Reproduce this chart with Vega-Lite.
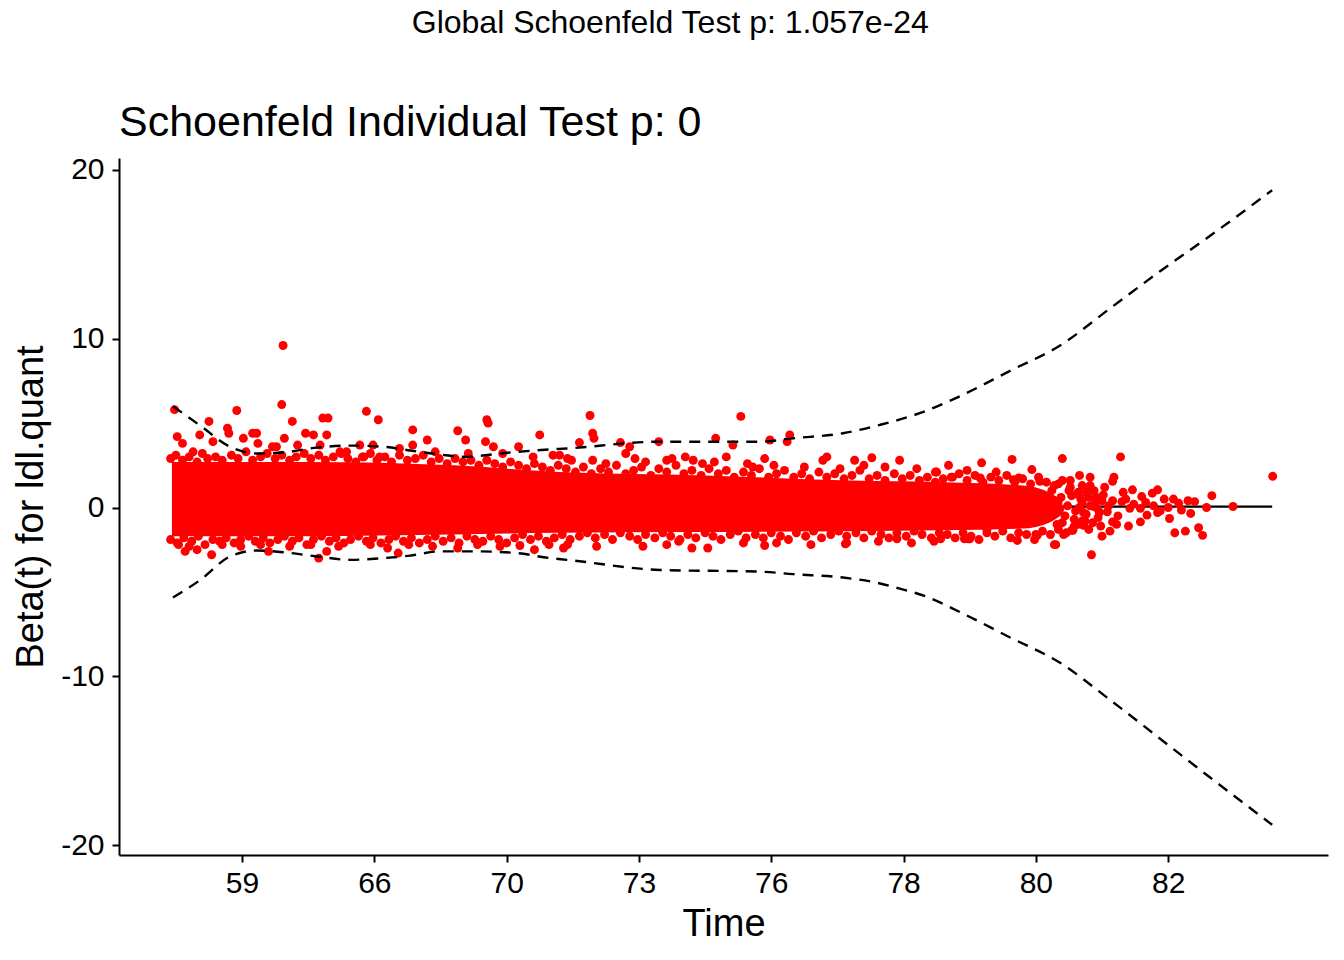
{
"$schema": "https://vega.github.io/schema/vega-lite/v6.json",
"background": "white",
"padding": {"left": 12, "top": 6, "right": 16, "bottom": 0},
"autosize": {"type": "pad"},
"config": {
  "font": "Liberation Sans",
  "view": {"stroke": null},
  "concat": {"spacing": 0},
  "axis": {"domainColor": "black", "domainWidth": 2, "tickColor": "black", "tickWidth": 2, "tickSize": 7, "labelColor": "black", "labelFontSize": 30, "titleFontSize": 38, "titleFontWeight": "normal", "titleColor": "black", "grid": false, "labelFont": "Liberation Sans", "titleFont": "Liberation Sans"}
},
"title": {"text": "Global Schoenfeld Test p: 1.057e-24", "fontSize": 32, "font": "Liberation Sans", "fontWeight": "normal", "color": "black", "anchor": "middle", "offset": 62},
"datasets": {
"core": [
{"t":0.47,"lo":-1.7,"hi":2.7},{"t":1.5,"lo":-1.7,"hi":2.7},{"t":2.6,"lo":-1.6,"hi":2.5},{"t":3.4,"lo":-1.5,"hi":2.1},{"t":4.5,"lo":-1.45,"hi":1.9},{"t":5.6,"lo":-1.4,"hi":1.6},{"t":6.3,"lo":-1.35,"hi":1.5},{"t":6.9,"lo":-1.25,"hi":1.3},{"t":7.1,"lo":-0.9,"hi":0.9},{"t":7.2,"lo":-0.4,"hi":0.4}
],
"fit": [{"t":0.478,"b":0.0},{"t":4.5,"b":0.05},{"t":8.786,"b":0.05}],
"ci": [
{"t":0.478,"hi":6.0,"lo":-5.33},{"t":0.683,"hi":4.86,"lo":-4.3},{"t":0.909,"hi":3.6,"lo":-2.9},{"t":1.113,"hi":3.2,"lo":-2.55},{"t":1.31,"hi":3.26,"lo":-2.65},{"t":1.567,"hi":3.55,"lo":-2.9},{"t":1.816,"hi":3.67,"lo":-3.1},{"t":2.066,"hi":3.6,"lo":-3.0},{"t":2.27,"hi":3.38,"lo":-2.85},{"t":2.497,"hi":3.14,"lo":-2.6},{"t":2.701,"hi":3.0,"lo":-2.6},{"t":2.776,"hi":3.05,"lo":-2.6},{"t":3.078,"hi":3.3,"lo":-2.7},{"t":3.328,"hi":3.44,"lo":-3.0},{"t":3.456,"hi":3.5,"lo":-3.1},{"t":4.159,"hi":3.9,"lo":-3.7},{"t":4.915,"hi":3.9,"lo":-3.8},{"t":5.165,"hi":4.1,"lo":-3.95},{"t":5.543,"hi":4.4,"lo":-4.15},{"t":5.823,"hi":4.9,"lo":-4.5},{"t":5.921,"hi":5.1,"lo":-4.7},{"t":6.178,"hi":5.75,"lo":-5.3},{"t":6.427,"hi":6.6,"lo":-6.2},{"t":6.805,"hi":8.1,"lo":-7.7},{"t":7.183,"hi":9.6,"lo":-9.2},{"t":7.561,"hi":11.8,"lo":-11.4},{"t":7.939,"hi":14.0,"lo":-13.7},{"t":8.317,"hi":16.1,"lo":-16.0},{"t":8.786,"hi":18.8,"lo":-18.8}
],
"pts": [
{"t":0.46,"b":2.9},{"t":0.50,"b":3.1},{"t":0.55,"b":2.8},{"t":0.60,"b":3.0},{"t":0.66,"b":2.7},{"t":0.70,"b":3.2},{"t":0.74,"b":2.9},{"t":0.80,"b":3.0},{"t":0.85,"b":2.8},{"t":0.92,"b":3.1},{"t":0.97,"b":2.9},{"t":1.03,"b":3.3},{"t":1.08,"b":2.8},{"t":1.14,"b":3.0},{"t":1.19,"b":3.2},{"t":1.25,"b":2.9},{"t":1.30,"b":3.1},{"t":1.36,"b":2.8},{"t":1.41,"b":3.0},{"t":1.47,"b":3.2},{"t":1.52,"b":2.9},{"t":1.58,"b":3.1},{"t":1.63,"b":2.8},{"t":1.69,"b":3.0},{"t":1.75,"b":3.2},{"t":1.80,"b":2.9},{"t":1.86,"b":2.7},{"t":1.91,"b":3.0},{"t":1.97,"b":3.2},{"t":2.02,"b":2.8},{"t":2.08,"b":3.0},{"t":2.13,"b":2.7},{"t":2.19,"b":3.1},{"t":2.25,"b":2.8},{"t":2.31,"b":2.9},{"t":2.37,"b":3.1},{"t":2.43,"b":2.7},{"t":2.49,"b":2.9},{"t":2.55,"b":2.6},{"t":2.61,"b":2.9},{"t":2.67,"b":2.7},{"t":2.73,"b":2.8},{"t":2.79,"b":2.5},{"t":2.85,"b":2.8},{"t":2.91,"b":2.6},{"t":2.97,"b":2.4},{"t":3.03,"b":2.7},{"t":3.09,"b":2.5},{"t":3.15,"b":2.3},{"t":3.21,"b":2.6},{"t":3.27,"b":2.4},{"t":3.33,"b":2.2},{"t":3.39,"b":2.5},
{"t":3.45,"b":2.3},{"t":3.52,"b":2.1},{"t":3.58,"b":2.4},{"t":3.64,"b":2.0},{"t":3.71,"b":2.3},{"t":3.77,"b":2.1},{"t":3.83,"b":2.5},{"t":3.90,"b":2.0},{"t":3.96,"b":2.2},{"t":4.02,"b":2.4},{"t":4.09,"b":1.9},{"t":4.15,"b":2.3},{"t":4.21,"b":2.1},{"t":4.28,"b":2.5},{"t":4.34,"b":2.0},{"t":4.40,"b":2.2},{"t":4.47,"b":1.9},{"t":4.53,"b":2.3},{"t":4.60,"b":2.0},{"t":4.66,"b":2.2},{"t":4.72,"b":1.8},{"t":4.79,"b":2.1},{"t":4.85,"b":1.9},{"t":4.91,"b":2.3},{"t":4.98,"b":1.8},{"t":5.04,"b":2.0},{"t":5.10,"b":2.2},{"t":5.17,"b":1.8},{"t":5.23,"b":2.0},{"t":5.29,"b":1.7},{"t":5.36,"b":2.1},{"t":5.42,"b":1.8},{"t":5.48,"b":2.0},{"t":5.55,"b":1.7},{"t":5.61,"b":1.9},{"t":5.67,"b":2.2},{"t":5.74,"b":1.7},{"t":5.80,"b":1.9},{"t":5.86,"b":1.6},{"t":5.93,"b":2.0},{"t":5.99,"b":1.7},{"t":6.05,"b":1.9},{"t":6.12,"b":1.6},{"t":6.18,"b":1.8},{"t":6.24,"b":1.5},{"t":6.30,"b":1.7},
{"t":6.36,"b":1.8},{"t":6.42,"b":2.0},{"t":6.48,"b":1.6},{"t":6.54,"b":1.9},{"t":6.60,"b":1.5},{"t":6.66,"b":1.8},{"t":6.72,"b":1.6},{"t":6.78,"b":1.9},{"t":6.84,"b":1.5},{"t":6.90,"b":1.7},{"t":6.96,"b":1.4},{"t":7.02,"b":1.8},{"t":7.08,"b":1.5},{"t":7.14,"b":1.3},{"t":7.20,"b":1.6},{"t":7.26,"b":1.2},{"t":7.32,"b":0.9},
{"t":0.46,"b":-1.9},{"t":0.51,"b":-2.1},{"t":0.56,"b":-1.8},{"t":0.62,"b":-2.0},{"t":0.67,"b":-1.7},{"t":0.72,"b":-2.2},{"t":0.78,"b":-1.9},{"t":0.83,"b":-2.0},{"t":0.88,"b":-1.8},{"t":0.94,"b":-2.1},{"t":0.99,"b":-1.9},{"t":1.05,"b":-1.7},{"t":1.10,"b":-2.0},{"t":1.16,"b":-1.8},{"t":1.21,"b":-2.1},{"t":1.27,"b":-1.9},{"t":1.32,"b":-1.7},{"t":1.38,"b":-2.0},{"t":1.43,"b":-1.8},{"t":1.49,"b":-2.2},{"t":1.54,"b":-1.9},{"t":1.60,"b":-1.7},{"t":1.66,"b":-2.0},{"t":1.71,"b":-1.8},{"t":1.77,"b":-2.1},{"t":1.82,"b":-1.9},{"t":1.88,"b":-1.7},{"t":1.94,"b":-2.0},{"t":1.99,"b":-1.8},{"t":2.05,"b":-2.1},{"t":2.11,"b":-1.9},{"t":2.16,"b":-1.7},{"t":2.22,"b":-2.0},{"t":2.28,"b":-1.8},{"t":2.34,"b":-2.1},{"t":2.40,"b":-1.9},{"t":2.46,"b":-1.7},{"t":2.52,"b":-2.0},{"t":2.58,"b":-1.8},{"t":2.64,"b":-2.1},{"t":2.70,"b":-1.7},{"t":2.76,"b":-1.9},{"t":2.82,"b":-2.0},{"t":2.88,"b":-1.7},{"t":2.94,"b":-1.9},{"t":3.00,"b":-2.1},{"t":3.06,"b":-1.8},{"t":3.12,"b":-1.6},{"t":3.18,"b":-1.9},{"t":3.24,"b":-1.7},{"t":3.30,"b":-2.0},{"t":3.36,"b":-1.8},
{"t":3.42,"b":-1.6},{"t":3.48,"b":-1.9},{"t":3.55,"b":-1.7},{"t":3.61,"b":-1.5},{"t":3.67,"b":-1.8},{"t":3.74,"b":-1.6},{"t":3.80,"b":-1.9},{"t":3.86,"b":-1.5},{"t":3.93,"b":-1.7},{"t":3.99,"b":-1.9},{"t":4.05,"b":-1.6},{"t":4.12,"b":-1.8},{"t":4.18,"b":-1.5},{"t":4.24,"b":-1.7},{"t":4.31,"b":-1.9},{"t":4.37,"b":-1.6},{"t":4.43,"b":-1.8},{"t":4.50,"b":-1.5},{"t":4.56,"b":-1.7},{"t":4.62,"b":-1.9},{"t":4.69,"b":-1.6},{"t":4.75,"b":-1.4},{"t":4.81,"b":-1.8},{"t":4.88,"b":-1.6},{"t":4.94,"b":-1.8},{"t":5.00,"b":-1.5},{"t":5.07,"b":-1.7},{"t":5.13,"b":-1.9},{"t":5.19,"b":-1.5},{"t":5.26,"b":-1.7},{"t":5.32,"b":-1.4},{"t":5.38,"b":-1.8},{"t":5.45,"b":-1.6},{"t":5.51,"b":-1.4},{"t":5.57,"b":-1.7},{"t":5.64,"b":-1.5},{"t":5.70,"b":-1.8},{"t":5.76,"b":-1.4},{"t":5.83,"b":-1.6},{"t":5.89,"b":-1.8},{"t":5.95,"b":-1.5},{"t":6.02,"b":-1.7},{"t":6.08,"b":-1.4},{"t":6.14,"b":-1.6},{"t":6.21,"b":-1.8},{"t":6.27,"b":-1.5},
{"t":6.33,"b":-1.6},{"t":6.39,"b":-1.8},{"t":6.45,"b":-1.5},{"t":6.51,"b":-1.7},{"t":6.57,"b":-1.9},{"t":6.63,"b":-1.5},{"t":6.69,"b":-1.7},{"t":6.75,"b":-1.4},{"t":6.81,"b":-1.8},{"t":6.87,"b":-1.5},{"t":6.93,"b":-1.6},{"t":6.99,"b":-1.9},{"t":7.05,"b":-1.4},{"t":7.11,"b":-1.6},{"t":7.17,"b":-1.3},{"t":7.23,"b":-1.5},{"t":7.29,"b":-1.1},{"t":7.35,"b":-0.8},
{"t":6.98,"b":0.9},{"t":7.02,"b":-0.8},{"t":7.06,"b":0.2},{"t":7.10,"b":-0.3},{"t":7.12,"b":1.0},{"t":7.16,"b":-1.0},{"t":7.19,"b":0.6},{"t":7.22,"b":-0.5},{"t":7.24,"b":0.1},{"t":7.27,"b":0.7},{"t":7.30,"b":-0.2},{"t":7.34,"b":0.5},{"t":7.37,"b":-0.8},{"t":7.40,"b":0.6},{"t":7.43,"b":-0.9},{"t":7.45,"b":0.3},{"t":7.48,"b":-0.3},{"t":7.50,"b":0.4},{"t":7.20,"b":-0.9},{"t":7.25,"b":1.0},{"t":7.14,"b":0.4},{"t":7.18,"b":-0.1},
{"t":1.31,"b":9.6},{"t":0.49,"b":5.8},{"t":0.96,"b":5.75},{"t":1.30,"b":6.1},{"t":0.75,"b":5.1},{"t":1.38,"b":5.1},{"t":1.61,"b":5.3},{"t":1.65,"b":5.3},{"t":1.94,"b":5.7},{"t":2.03,"b":5.2},{"t":2.29,"b":4.6},{"t":2.40,"b":4.0},{"t":2.63,"b":4.55},{"t":2.69,"b":4.0},{"t":0.51,"b":4.2},{"t":0.68,"b":4.3},{"t":0.89,"b":4.7},{"t":0.90,"b":4.4},{"t":1.01,"b":4.1},{"t":1.08,"b":4.4},{"t":1.11,"b":4.4},{"t":1.12,"b":3.8},{"t":1.32,"b":4.1},{"t":1.48,"b":4.4},{"t":1.54,"b":4.3},{"t":1.64,"b":4.3},{"t":1.42,"b":3.7},{"t":1.89,"b":3.7},{"t":1.99,"b":3.7},{"t":2.29,"b":3.7},{"t":2.19,"b":3.5},{"t":2.46,"b":3.3},{"t":0.63,"b":3.3},{"t":0.55,"b":3.8},{"t":0.78,"b":3.9},{"t":1.23,"b":3.6},{"t":1.26,"b":3.6},{"t":1.59,"b":3.7},{"t":1.74,"b":3.3},{"t":1.79,"b":3.3},{"t":1.92,"b":3.0},{"t":2.04,"b":3.0},{"t":2.71,"b":3.2},
{"t":2.85,"b":5.2},{"t":2.86,"b":5.0},{"t":2.84,"b":3.9},{"t":2.90,"b":3.6},{"t":3.09,"b":3.6},{"t":3.25,"b":4.3},{"t":3.20,"b":3.0},{"t":3.35,"b":3.1},{"t":3.46,"b":2.9},{"t":2.97,"b":3.2},
{"t":3.63,"b":5.45},{"t":3.65,"b":4.4},{"t":3.66,"b":4.1},{"t":3.55,"b":3.85},{"t":3.86,"b":3.85},{"t":3.93,"b":3.6},{"t":3.90,"b":3.2},{"t":3.97,"b":2.9},{"t":4.15,"b":3.9},{"t":4.21,"b":2.8},{"t":4.35,"b":3.0},{"t":4.41,"b":2.8},{"t":4.58,"b":4.1},{"t":4.71,"b":3.7},{"t":4.77,"b":5.4},{"t":4.99,"b":4.0},{"t":5.12,"b":3.9},{"t":5.14,"b":4.3},{"t":4.95,"b":2.9},{"t":4.57,"b":2.7},{"t":4.66,"b":3.0},{"t":4.82,"b":2.6},{"t":4.86,"b":2.4},{"t":5.39,"b":2.8},{"t":5.42,"b":3.0},{"t":5.63,"b":2.8},{"t":5.76,"b":2.95},{"t":5.97,"b":2.8},{"t":6.34,"b":2.5},{"t":3.49,"b":2.8},{"t":3.65,"b":2.8},{"t":3.40,"b":3.1},{"t":5.86,"b":2.4},{"t":6.25,"b":2.1},{"t":6.37,"b":1.8},
{"t":4.05,"b":2.7},{"t":4.48,"b":2.6},{"t":5.02,"b":2.5},{"t":5.25,"b":2.4},{"t":5.52,"b":2.3},{"t":5.70,"b":2.5},{"t":6.10,"b":2.3},{"t":6.48,"b":2.2},{"t":3.75,"b":2.6},{"t":4.25,"b":2.9},
{"t":6.59,"b":2.65},{"t":6.82,"b":2.85},{"t":7.20,"b":2.9},{"t":7.64,"b":3.0},{"t":8.79,"b":1.85},{"t":6.97,"b":2.25},{"t":6.70,"b":2.1},{"t":6.58,"b":1.75},{"t":6.83,"b":1.65},{"t":6.87,"b":1.75},{"t":7.03,"b":1.55},{"t":7.17,"b":1.4},{"t":7.26,"b":1.6},{"t":7.33,"b":1.9},{"t":7.41,"b":1.8},{"t":7.41,"b":1.3},{"t":7.58,"b":1.55},{"t":7.59,"b":1.8},{"t":7.73,"b":1.05},{"t":7.80,"b":0.65},{"t":7.88,"b":0.85},{"t":7.92,"b":1.05},{"t":8.04,"b":0.5},{"t":8.08,"b":0.25},{"t":8.20,"b":0.35},{"t":8.33,"b":0.7},{"t":8.29,"b":0.0},{"t":8.49,"b":0.06},{"t":8.17,"b":-0.35},{"t":8.10,"b":-0.15},{"t":7.94,"b":-0.2},{"t":8.01,"b":-0.65},{"t":8.05,"b":-1.5},{"t":8.13,"b":-1.4},{"t":8.23,"b":-1.2},{"t":8.26,"b":-1.65},{"t":7.42,"b":-2.8},{"t":7.50,"b":-1.7},{"t":7.14,"b":-2.2},{"t":7.21,"b":-1.6},{"t":7.27,"b":-1.35},{"t":7.00,"b":-1.6},{"t":6.86,"b":-1.95},{"t":6.50,"b":-1.85},{"t":6.46,"b":-1.85},{"t":6.28,"b":-1.85},{"t":6.63,"b":-1.3},{"t":7.36,"b":-1.05},{"t":7.49,"b":-1.1},{"t":7.70,"b":-1.1},{"t":7.58,"b":-0.85},{"t":7.61,"b":-1.0},{"t":7.79,"b":-0.85},{"t":7.84,"b":-0.45},{"t":7.79,"b":-0.05},{"t":7.71,"b":-0.05},{"t":7.65,"b":0.35},{"t":7.58,"b":0.4},{"t":7.51,"b":0.75},{"t":7.46,"b":0.6},{"t":7.41,"b":0.1},{"t":7.44,"b":0.05},{"t":7.54,"b":-0.25},{"t":7.89,"b":0.1},{"t":7.92,"b":-0.3},{"t":8.0,"b":0.0},{"t":8.15,"b":0.4},{"t":6.24,"b":2.1},
{"t":7.35,"b":0.3},{"t":7.38,"b":-0.4},{"t":7.47,"b":-0.6},{"t":7.55,"b":0.1},{"t":7.62,"b":-0.5},{"t":7.68,"b":0.5},{"t":7.31,"b":0.8},{"t":7.29,"b":-0.7},{"t":7.44,"b":1.0},{"t":7.52,"b":1.2},{"t":7.66,"b":0.9},{"t":7.74,"b":0.2},{"t":7.83,"b":0.3},{"t":7.97,"b":0.5},{"t":7.32,"b":-1.0},{"t":7.40,"b":-1.3},{"t":7.56,"b":-1.4},{"t":7.35,"b":1.3},{"t":7.33,"b":0.0},{"t":7.38,"b":0.9},{"t":7.47,"b":-0.1},{"t":7.36,"b":-0.3},
{"t":0.57,"b":-2.6},{"t":0.66,"b":-2.5},{"t":0.77,"b":-2.8},{"t":1.20,"b":-2.6},{"t":1.58,"b":-3.0},{"t":1.64,"b":-2.6},{"t":2.10,"b":-2.4},{"t":2.18,"b":-2.7},{"t":2.63,"b":-2.4},{"t":3.21,"b":-2.5},{"t":3.43,"b":-2.4},{"t":3.46,"b":-2.2},{"t":3.10,"b":-2.25},{"t":3.68,"b":-2.3},{"t":4.03,"b":-2.3},{"t":4.21,"b":-2.2},{"t":4.30,"b":-2.0},{"t":4.40,"b":-2.4},{"t":4.52,"b":-2.4},{"t":4.79,"b":-2.1},{"t":4.95,"b":-2.25},{"t":5.04,"b":-2.1},{"t":5.30,"b":-2.2},{"t":5.57,"b":-2.1},{"t":5.81,"b":-2.0},{"t":6.06,"b":-2.1},{"t":6.23,"b":-2.0},{"t":5.95,"b":-1.85},{"t":5.56,"b":-2.15},{"t":6.49,"b":-1.85},{"t":7.15,"b":-2.2},{"t":7.01,"b":-1.65},{"t":7.28,"b":-1.35},
{"t":0.52,"b":-2.2},{"t":0.60,"b":-2.3},{"t":0.85,"b":-2.2},{"t":0.99,"b":-2.3},{"t":1.14,"b":-2.2},{"t":1.36,"b":-2.3},{"t":1.52,"b":-2.2},{"t":1.73,"b":-2.3},{"t":1.97,"b":-2.2},{"t":2.26,"b":-2.2},{"t":2.44,"b":-2.3},{"t":2.78,"b":-2.2},{"t":2.95,"b":-2.3},{"t":3.32,"b":-2.2}
]
},
"vconcat": [
{
  "width": 1209,
  "height": 697,
  "title": {"text": "Schoenfeld Individual Test p: 0", "fontSize": 43, "font": "Liberation Sans", "fontWeight": "normal", "color": "black", "anchor": "start", "frame": "group", "offset": 10},
  "layer": [
    {
      "data": {"name": "fit"},
      "mark": {"type": "line", "color": "black", "strokeWidth": 2.4},
      "encoding": {
        "x": {"field": "t", "type": "quantitative", "scale": {"domain": [0.07, 9.208], "nice": false, "zero": false},
              "axis": {"values": [1,2,3,4,5,6,7,8], "labelExpr": "['','59','66','70','73','76','78','80','82'][datum.value]", "title": "Time", "labelPadding": 6, "titlePadding": 7}},
        "y": {"field": "b", "type": "quantitative", "scale": {"domain": [-20.59, 20.71], "nice": false, "zero": false},
              "axis": {"values": [-20,-10,0,10,20], "labelExpr": "'' + datum.value", "title": "Beta(t) for ldl.quant", "labelPadding": 8, "titlePadding": 10}}
      }
    },
    {
      "data": {"name": "core"},
      "mark": {"type": "area", "color": "#ff0000", "opacity": 1, "interpolate": "monotone"},
      "encoding": {
        "x": {"field": "t", "type": "quantitative", "scale": {"domain": [0.07, 9.208], "nice": false, "zero": false}},
        "y": {"field": "lo", "type": "quantitative", "scale": {"domain": [-20.59, 20.71], "nice": false, "zero": false}},
        "y2": {"field": "hi"}
      }
    },
    {
      "data": {"name": "pts"},
      "mark": {"type": "circle", "color": "#ff0000", "opacity": 1, "size": 80},
      "encoding": {
        "x": {"field": "t", "type": "quantitative", "scale": {"domain": [0.07, 9.208], "nice": false, "zero": false}},
        "y": {"field": "b", "type": "quantitative", "scale": {"domain": [-20.59, 20.71], "nice": false, "zero": false}}
      }
    },
    {
      "data": {"name": "ci"},
      "mark": {"type": "line", "color": "black", "strokeWidth": 2.4, "strokeDash": [11, 8], "interpolate": "monotone"},
      "encoding": {
        "x": {"field": "t", "type": "quantitative", "scale": {"domain": [0.07, 9.208], "nice": false, "zero": false}},
        "y": {"field": "hi", "type": "quantitative", "scale": {"domain": [-20.59, 20.71], "nice": false, "zero": false}}
      }
    },
    {
      "data": {"name": "ci"},
      "mark": {"type": "line", "color": "black", "strokeWidth": 2.4, "strokeDash": [11, 8], "interpolate": "monotone"},
      "encoding": {
        "x": {"field": "t", "type": "quantitative", "scale": {"domain": [0.07, 9.208], "nice": false, "zero": false}},
        "y": {"field": "lo", "type": "quantitative", "scale": {"domain": [-20.59, 20.71], "nice": false, "zero": false}}
      }
    }
  ]
}
]
}
